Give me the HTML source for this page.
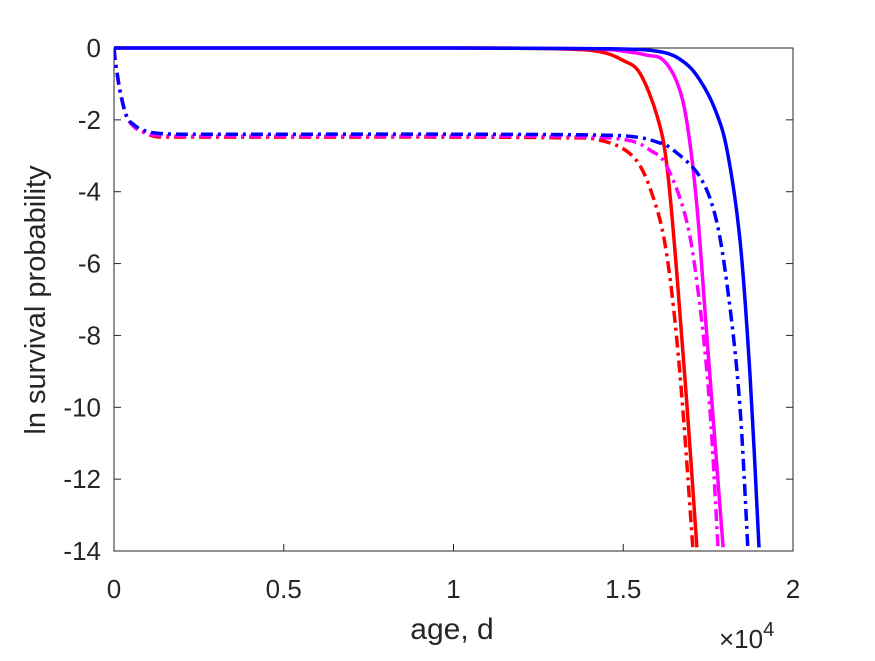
<!DOCTYPE html>
<html><head><meta charset="utf-8"><style>
body{margin:0;background:#fff;}
svg text{font-family:"Liberation Sans",sans-serif;fill:#262626;}
</style></head><body>
<svg id="chart" width="875" height="656" viewBox="0 0 875 656" xmlns="http://www.w3.org/2000/svg">
<defs><clipPath id="clip"><rect x="114" y="44" width="679" height="508"/></clipPath></defs>
<rect x="0" y="0" width="875" height="656" fill="#fff"/>
<rect x="114" y="48" width="679" height="503" fill="#fff" stroke="#262626" stroke-width="1"/>
<g id="ticks"></g>
<g id="series" clip-path="url(#clip)"></g>
<text x="0" y="0" font-size="29" text-anchor="middle" transform="translate(45,300) rotate(-90)">ln survival probability</text>
<text x="452" y="639" font-size="30" text-anchor="middle">age, d</text>
<text x="719" y="648" font-size="26">×10<tspan font-size="20" dy="-12">4</tspan></text>
</svg>
<script>
const xTicks=[0,0.5,1,1.5,2];
const xTickLabels=["0","0.5","1","1.5","2"];
const yTicks=[0,-2,-4,-6,-8,-10,-12,-14];
const yTickLabels=["0","-2","-4","-6","-8","-10","-12","-14"];
const seriesNames=["red-solid","magenta-solid","blue-solid","red-dashdot","magenta-dashdot","blue-dashdot"];
const seriesColors=["#ff0000","#ff00ff","#0000ff","#ff0000","#ff00ff","#0000ff"];
const seriesDash=[false,false,false,true,true,true];
const redSolidX=[0,1.0,1.3,1.43,1.5,1.549,1.6,1.629,1.658,1.688,1.717];
const redSolidY=[0,0,-0.02,-0.1,-0.35,-0.7,-1.9,-3.3,-6.3,-10,-13.9];
const magSolidX=[0,1.0,1.4,1.51,1.57,1.617,1.66,1.688,1.717,1.747,1.794];
const magSolidY=[0,0,-0.02,-0.1,-0.2,-0.33,-1.0,-2.1,-4.4,-8.1,-13.9];
const blueSolidX=[0,1.0,1.45,1.608,1.68,1.726,1.77,1.806,1.844,1.873,1.9];
const blueSolidY=[0,0,-0.02,-0.1,-0.4,-0.9,-1.7,-2.85,-5.35,-9.05,-13.9];
const redDashX=[0,0.003,0.009,0.02,0.038,0.06,0.077,0.1,0.127,0.2,0.5,1.0,1.3,1.43,1.53,1.588,1.629,1.667,1.705];
const redDashY=[0,-0.3,-0.7,-1.3,-1.92,-2.2,-2.3,-2.4,-2.47,-2.48,-2.48,-2.48,-2.5,-2.56,-3.03,-4.15,-5.8,-9.05,-13.9];
const magDashX=[0,0.003,0.009,0.02,0.038,0.06,0.077,0.1,0.127,0.2,0.5,1.0,1.35,1.51,1.58,1.629,1.688,1.726,1.755,1.779];
const magDashY=[0,-0.3,-0.7,-1.3,-1.92,-2.2,-2.3,-2.38,-2.43,-2.45,-2.45,-2.45,-2.47,-2.56,-2.85,-3.3,-4.87,-7.2,-10,-13.9];
const blueDashX=[0,0.003,0.009,0.02,0.038,0.06,0.077,0.1,0.127,0.2,0.5,1.0,1.4,1.53,1.6,1.647,1.726,1.776,1.814,1.844,1.867];
const blueDashY=[0,-0.3,-0.7,-1.3,-1.92,-2.15,-2.25,-2.33,-2.37,-2.4,-2.4,-2.4,-2.42,-2.47,-2.62,-2.84,-3.59,-4.87,-7.2,-10,-13.9];
const seriesX=[redSolidX,magSolidX,blueSolidX,redDashX,magDashX,blueDashX];
const seriesY=[redSolidY,magSolidY,blueSolidY,redDashY,magDashY,blueDashY];

const X0=114,X1=793,Y0=48,Y1=551;
function sx(v){return X0+(v-0)/(2-0)*(X1-X0);}
function sy(v){return Y0+(0-v)/(0-(-14))*(Y1-Y0);}
const NS="http://www.w3.org/2000/svg";
const tg=document.getElementById('ticks');
xTicks.forEach((t,i)=>{
  const x=sx(t);
  const l=document.createElementNS(NS,'line');
  l.setAttribute('x1',x);l.setAttribute('x2',x);l.setAttribute('y1',Y1);l.setAttribute('y2',Y1-7);
  l.setAttribute('stroke','#262626');
  
  
  tg.appendChild(l);
  const tt=document.createElementNS(NS,'text');
  tt.setAttribute('x',x);tt.setAttribute('y',Y1+47);tt.setAttribute('font-size','26');tt.setAttribute('text-anchor','middle');
  tt.textContent=xTickLabels[i];
  
  
  tg.appendChild(tt);
});
yTicks.forEach((t,i)=>{
  const y=sy(t);
  [[X0,X0+7],[X1,X1-7]].forEach(p=>{
    const l=document.createElementNS(NS,'line');
    l.setAttribute('x1',p[0]);l.setAttribute('x2',p[1]);l.setAttribute('y1',y);l.setAttribute('y2',y);
    l.setAttribute('stroke','#262626');
    
    
    tg.appendChild(l);
  });
  const tt=document.createElementNS(NS,'text');
  tt.setAttribute('x',X0-13);tt.setAttribute('y',y+9);tt.setAttribute('font-size','26');tt.setAttribute('text-anchor','end');
  tt.textContent=yTickLabels[i];
  
  
  tg.appendChild(tt);
});
function smoothPath(P){
  let d='M'+P[0][0].toFixed(1)+','+P[0][1].toFixed(1);
  for(let i=0;i<P.length-1;i++){
    const p0=P[Math.max(i-1,0)],p1=P[i],p2=P[i+1],p3=P[Math.min(i+2,P.length-1)];
    const c1=[p1[0]+(p2[0]-p0[0])/6,p1[1]+(p2[1]-p0[1])/6];
    const c2=[p2[0]-(p3[0]-p1[0])/6,p2[1]-(p3[1]-p1[1])/6];
    d+=' C'+c1[0].toFixed(1)+','+c1[1].toFixed(1)+' '+c2[0].toFixed(1)+','+c2[1].toFixed(1)+' '+p2[0].toFixed(1)+','+p2[1].toFixed(1);
  }
  return d;
}
const sg=document.getElementById('series');
seriesNames.forEach((n,i)=>{
  const P=seriesX[i].map((x,j)=>[sx(x),sy(seriesY[i][j])]);
  const p=document.createElementNS(NS,'path');
  p.setAttribute('d',smoothPath(P));
  p.setAttribute('fill','none');
  p.setAttribute('stroke',seriesColors[i]);
  p.setAttribute('stroke-width','3.5');
  p.setAttribute('stroke-linejoin','round');
  if(seriesDash[i]) p.setAttribute('stroke-dasharray','12,5,3,5');
  
  
  sg.appendChild(p);
});
</script>
</body></html>
